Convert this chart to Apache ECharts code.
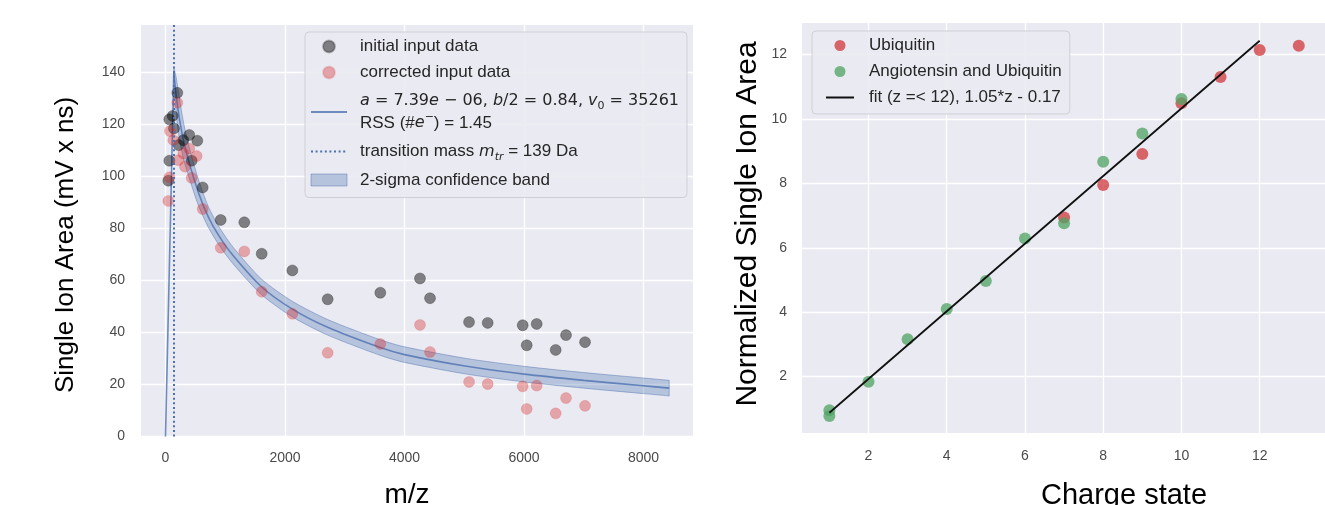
<!DOCTYPE html>
<html>
<head>
<meta charset="utf-8">
<script src="https://cdn.jsdelivr.net/npm/echarts@6/dist/echarts.min.js"></script>
<style>
html, body { margin: 0; padding: 0; background: #fff; }
#main { width: 1325px; height: 505px; }
</style>
</head>
<body>
<div id="main"></div>
<script>
// left panel: single ion area vs m/z
var initialMass = [47, 64, 64, 120, 142, 198, 221, 298, 398, 438, 532, 622, 924, 1319, 1610, 2123, 2714, 3595, 4259, 4427, 5080, 5392, 5978, 6045, 6212, 6530, 6703, 7021];
var initialArea = [98.4, 106.1, 122.0, 123.3, 118.5, 132.2, 112.1, 114.0, 116.0, 106.1, 113.8, 95.8, 83.3, 82.4, 70.3, 63.9, 52.8, 55.3, 60.8, 53.2, 44.0, 43.7, 42.8, 35.1, 43.3, 33.3, 39.0, 36.3];
var correctedMass = [47, 64, 75, 131, 198, 214, 298, 326, 398, 438, 522, 622, 924, 1319, 1610, 2123, 2714, 3595, 4259, 4427, 5080, 5392, 5978, 6045, 6212, 6530, 6703, 7021];
var correctedArea = [90.6, 99.7, 117.5, 114.0, 128.4, 106.3, 108.9, 103.8, 110.8, 99.5, 107.9, 87.5, 72.6, 71.2, 55.7, 47.2, 32.2, 35.6, 42.9, 32.5, 21.0, 20.2, 19.3, 10.6, 19.6, 8.9, 14.8, 11.8];
var riseMass = [0, 139];
var riseArea = [0, 140];
var fitMass = [139, 180, 231, 300, 382, 549, 716, 900, 1135, 1610, 2123, 2714, 3595, 4000, 5040, 6000, 7000, 8000, 8430];
var fitArea = [140, 131, 122.5, 114, 106.5, 94, 84.5, 77, 69.5, 57.5, 49, 42, 34.2, 31.5, 27, 24, 21.6, 19.5, 18.6];
var bandLow = [138, 124, 114.5, 107, 100.5, 89, 80.5, 73.5, 66.3, 54.5, 46, 39, 31.2, 28.5, 24, 21, 18.6, 16.5, 15.6];
var bandHigh = [142, 138, 130.5, 121, 112.5, 99, 88.5, 80.5, 72.7, 60.5, 52, 45, 37.2, 34.5, 30, 27, 24.6, 22.5, 21.6];
var transitionMass = 139;
var massTicks = [0, 2000, 4000, 6000, 8000];
var areaTicks = [0, 20, 40, 60, 80, 100, 120, 140];

// right panel: normalized area vs charge state
var ubiquitinZ = [7, 8, 9, 10, 11, 12, 13];
var ubiquitinArea = [6.94, 7.95, 8.91, 10.49, 11.30, 12.14, 12.27];
var angioZ = [1, 1, 2, 3, 4, 5, 6, 7, 8, 9, 10];
var angioArea = [0.96, 0.78, 1.84, 3.16, 4.10, 4.97, 6.29, 6.76, 8.67, 9.55, 10.62];
var fitZ = [1, 12];
var fitZArea = [0.88, 12.43];
var chargeTicks = [2, 4, 6, 8, 10, 12];
var normTicks = [2, 4, 6, 8, 10, 12];

function pairs(xs, ys) {
    return xs.map(function (x, i) { return [x, ys[i]]; });
}

var FONT = '"Liberation Sans", Arial, sans-serif';
var BLUE = '#4C72B0';
var INK = '#262626';

var leftLegendText = {
    'initial input data': 'initial input data',
    'corrected input data': 'corrected input data',
    'model fit': '{mi|a}{mt| = 7.39}{mi|e}{mt| \u2212 06, }{mi|b}{mt|/2 = 0.84, }{mi|v}{sub0|0}{mt| = 35261}\n{tx|RSS (#}{mi|e}{sup|\u2212}{tx|) = 1.45}',
    'transition': 'transition mass {mi2|m}{sub|tr} = 139 Da',
    '2-sigma confidence band': '2-sigma confidence band'
};

var chart = echarts.init(document.getElementById('main'));

var tickText = { color: '#4a4a4a', fontSize: 14, fontFamily: FONT };
var whiteGrid = { lineStyle: { color: '#fff', width: 1.3 } };
var plain = function (v) { return String(v); };

var option = {
    animation: false,
    backgroundColor: '#fff',
    grid: [
        { left: 141, top: 25, width: 552, height: 411.5, show: true, backgroundColor: '#EAEAF2', borderWidth: 0 },
        // right panel is cut by the picture edge, as in the cropped original
        { left: 802, top: 23, right: 0, height: 410, show: true, backgroundColor: '#EAEAF2', borderWidth: 0 }
    ],
    xAxis: [{
        gridIndex: 0,
        type: 'value',
        min: -410,
        max: 8828,
        axisLine: { show: false },
        axisTick: { show: false, customValues: massTicks },
        axisLabel: Object.assign({ customValues: massTicks, margin: 15, formatter: plain }, tickText),
        splitLine: whiteGrid
    }, {
        gridIndex: 1,
        type: 'value',
        min: 0.3,
        max: 13.67,
        axisLine: { show: false },
        axisTick: { show: false, customValues: chargeTicks },
        axisLabel: Object.assign({ customValues: chargeTicks, margin: 16, formatter: plain }, tickText),
        splitLine: whiteGrid
    }],
    yAxis: [{
        gridIndex: 0,
        type: 'value',
        min: 0,
        max: 158.3,
        axisLine: { show: false },
        axisTick: { show: false, customValues: areaTicks },
        axisLabel: Object.assign({ customValues: areaTicks, margin: 16, formatter: plain }, tickText),
        splitLine: whiteGrid
    }, {
        gridIndex: 1,
        type: 'value',
        min: 0.25,
        max: 12.98,
        axisLine: { show: false },
        axisTick: { show: false, customValues: normTicks },
        axisLabel: Object.assign({ customValues: normTicks, margin: 15, formatter: plain }, tickText),
        splitLine: whiteGrid
    }],
    // axis titles
    graphic: [
        { type: 'text', x: 66, y: 245, rotation: Math.PI / 2, style: { text: 'Single Ion Area (mV x ns)', fontSize: 26, fontFamily: FONT, fill: '#000', align: 'center', verticalAlign: 'middle' } },
        { type: 'text', x: 407, y: 495, style: { text: 'm/z', fontSize: 28, fontFamily: FONT, fill: '#000', align: 'center', verticalAlign: 'middle' } },
        { type: 'text', x: 748, y: 224, rotation: Math.PI / 2, style: { text: 'Normalized Single Ion Area', fontSize: 30, fontFamily: FONT, fill: '#000', align: 'center', verticalAlign: 'middle' } },
        { type: 'text', x: 1124, y: 496, style: { text: 'Charge state', fontSize: 29, fontFamily: FONT, fill: '#000', align: 'center', verticalAlign: 'middle' } }
    ],
    legend: [{
        orient: 'vertical',
        left: 305,
        top: 32,
        padding: [6, 8, 9, 5],
        itemWidth: 36,
        itemHeight: 12,
        itemGap: 9,
        selectedMode: false,
        backgroundColor: 'rgba(234,234,242,0.9)',
        borderColor: '#cfcfd6',
        borderWidth: 1,
        borderRadius: 4,
        formatter: function (name) { return leftLegendText[name] || name; },
        textStyle: {
            fontFamily: FONT,
            fontSize: 17,
            color: INK,
            lineHeight: 16,
            padding: [0, 0, 0, 8],
            rich: {
                tx: { fontFamily: FONT, fontSize: 17, color: INK, lineHeight: 22 },
                mt: { fontFamily: 'DejaVu Sans', fontSize: 16, color: INK, lineHeight: 22 },
                mi: { fontFamily: 'DejaVu Sans', fontStyle: 'italic', fontSize: 16, color: INK, lineHeight: 22 },
                mi2: { fontFamily: 'DejaVu Sans', fontStyle: 'italic', fontSize: 16, color: INK, lineHeight: 16 },
                sub0: { fontFamily: 'DejaVu Sans', fontSize: 11, color: INK, lineHeight: 12, verticalAlign: 'bottom' },
                sub: { fontFamily: 'DejaVu Sans', fontStyle: 'italic', fontSize: 11, color: INK, lineHeight: 12, verticalAlign: 'bottom', padding: [0, 0, -3, 0] },
                sup: { fontFamily: 'DejaVu Sans', fontSize: 11, color: INK, lineHeight: 12, verticalAlign: 'top' }
            }
        },
        data: [
            { name: 'initial input data' },
            { name: 'corrected input data' },
            { name: 'model fit', itemStyle: { opacity: 0 } },
            { name: 'transition', itemStyle: { opacity: 0 } },
            { name: '2-sigma confidence band', icon: 'rect', itemStyle: { color: 'rgba(76,114,176,0.33)', borderColor: 'rgba(76,114,176,0.45)', borderWidth: 1 } }
        ]
    }, {
        orient: 'vertical',
        left: 812,
        top: 31,
        padding: [6, 8, 8, 13],
        itemWidth: 28,
        itemHeight: 11,
        itemGap: 9,
        selectedMode: false,
        backgroundColor: 'rgba(234,234,242,0.9)',
        borderColor: '#cfcfd6',
        borderWidth: 1,
        borderRadius: 4,
        textStyle: { fontFamily: FONT, fontSize: 17, color: INK, lineHeight: 16, padding: [0, 0, 0, 10] },
        data: [
            { name: 'Ubiquitin' },
            { name: 'Angiotensin and Ubiquitin' },
            { name: 'fit (z =< 12), 1.05*z - 0.17', itemStyle: { opacity: 0 } }
        ]
    }],
    series: [
        // 2-sigma band: one polygon between the low and high bounds
        {
            name: '2-sigma confidence band',
            type: 'custom',
            xAxisIndex: 0, yAxisIndex: 0,
            data: pairs(fitMass, fitArea),
            itemStyle: { color: 'rgba(76,114,176,0.33)' },
            silent: true,
            z: 1,
            renderItem: function (params, api) {
                if (params.dataIndex !== 0) return null;
                var upper = fitMass.map(function (m, i) { return api.coord([m, bandHigh[i]]); });
                var lower = fitMass.map(function (m, i) { return api.coord([m, bandLow[i]]); }).reverse();
                // repeat the end points so the smoothed outline keeps square ends
                var last = upper.length - 1;
                var pts = [upper[0]].concat(upper, [upper[last], lower[0]], lower, [lower[last]]);
                return {
                    type: 'polygon',
                    shape: { points: pts, smooth: 0.25 },
                    style: { fill: 'rgba(76,114,176,0.33)', stroke: 'rgba(76,114,176,0.45)', lineWidth: 1 }
                };
            }
        },
        {
            name: 'rise',
            type: 'line',
            xAxisIndex: 0, yAxisIndex: 0,
            data: pairs(riseMass, riseArea),
            symbol: 'none',
            lineStyle: { width: 1.6, color: 'rgba(76,114,176,0.8)' },
            emphasis: { disabled: true },
            z: 2
        },
        {
            name: 'model fit',
            type: 'line',
            xAxisIndex: 0, yAxisIndex: 0,
            data: pairs(fitMass, fitArea),
            smooth: 0.25,
            symbol: 'none',
            itemStyle: { color: 'rgba(76,114,176,0.8)' },
            lineStyle: { width: 1.6, color: 'rgba(76,114,176,0.8)' },
            emphasis: { disabled: true },
            z: 2
        },
        {
            name: 'transition',
            type: 'line',
            xAxisIndex: 0, yAxisIndex: 0,
            data: [],
            symbol: 'none',
            itemStyle: { color: BLUE },
            lineStyle: { width: 2, color: BLUE, type: [2, 2.6] },
            markLine: {
                silent: true,
                symbol: 'none',
                label: { show: false },
                lineStyle: { width: 2, color: BLUE, type: [2, 2.6] },
                data: [{ xAxis: transitionMass }]
            },
            z: 2
        },
        {
            name: 'initial input data',
            type: 'scatter',
            xAxisIndex: 0, yAxisIndex: 0,
            data: pairs(initialMass, initialArea),
            symbolSize: 11,
            itemStyle: { color: 'rgba(0,0,0,0.58)', borderColor: 'rgba(0,0,0,0.3)', borderWidth: 1 },
            emphasis: { disabled: true },
            z: 3
        },
        {
            name: 'corrected input data',
            type: 'scatter',
            xAxisIndex: 0, yAxisIndex: 0,
            data: pairs(correctedMass, correctedArea),
            symbolSize: 11,
            itemStyle: { color: 'rgba(214,39,40,0.45)', borderColor: 'rgba(214,39,40,0.2)', borderWidth: 1 },
            emphasis: { disabled: true },
            z: 3
        },
        // right panel
        {
            name: 'Ubiquitin',
            type: 'scatter',
            xAxisIndex: 1, yAxisIndex: 1,
            data: pairs(ubiquitinZ, ubiquitinArea),
            symbolSize: 12,
            itemStyle: { color: 'rgba(205,38,40,0.85)' },
            emphasis: { disabled: true },
            z: 3
        },
        {
            name: 'Angiotensin and Ubiquitin',
            type: 'scatter',
            xAxisIndex: 1, yAxisIndex: 1,
            data: pairs(angioZ, angioArea),
            symbolSize: 12,
            itemStyle: { color: 'rgba(80,164,98,0.95)' },
            emphasis: { disabled: true },
            z: 3
        },
        {
            name: 'fit (z =< 12), 1.05*z - 0.17',
            type: 'line',
            xAxisIndex: 1, yAxisIndex: 1,
            data: pairs(fitZ, fitZArea),
            symbol: 'none',
            itemStyle: { color: '#111' },
            lineStyle: { width: 1.8, color: '#111' },
            emphasis: { disabled: true },
            z: 4
        }
    ]
};

chart.setOption(option);
</script>
</body>
</html>
